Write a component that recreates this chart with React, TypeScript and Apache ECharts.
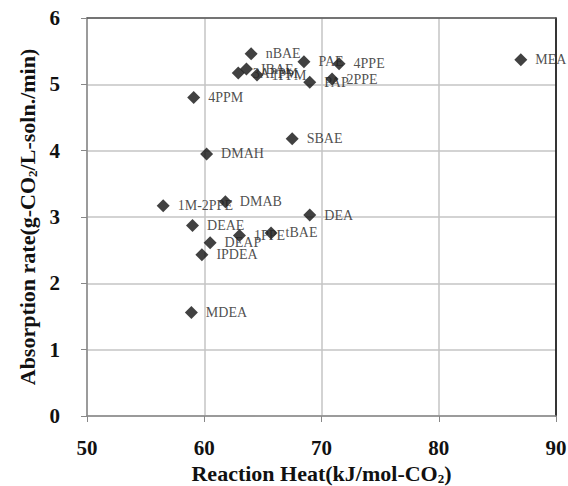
import React, { useEffect, useRef } from "react";
import * as echarts from "echarts";

const amineNames = [
  "MEA", "nBAE", "PAE", "4PPE", "IBAE", "3APPM", "1PPM", "PAP", "2PPE", "4PPM",
  "SBAE", "DMAH", "1M-2PPE", "DMAB", "DEA", "DEAE", "1PPE", "tBAE", "DEAP", "IPDEA", "MDEA",
];
const reactionHeat = [
  87.0, 64.0, 68.5, 71.5, 63.6, 62.9, 64.5, 69.0, 70.9, 59.1,
  67.5, 60.2, 56.5, 61.8, 69.0, 59.0, 63.0, 65.7, 60.5, 59.8, 58.9,
];
const absorptionRate = [
  5.37, 5.46, 5.34, 5.31, 5.23, 5.17, 5.14, 5.03, 5.08, 4.8,
  4.18, 3.95, 3.17, 3.23, 3.03, 2.87, 2.72, 2.76, 2.61, 2.43, 1.56,
];

const SERIF = "'Liberation Serif', 'DejaVu Serif', serif";

export default function App() {
  const ref = useRef<HTMLDivElement>(null);
  useEffect(() => {
    if (!ref.current) return;
    const chart = echarts.init(ref.current, undefined, { renderer: "svg" });
    const data = amineNames.map((n, i) => [reactionHeat[i], absorptionRate[i], n]);
    const nameRich = {
      sub: {
        fontSize: 13,
        lineHeight: 13,
        fontWeight: "bold",
        fontFamily: SERIF,
        color: "#111",
        verticalAlign: "bottom",
        padding: [5, 0, 0, 0],
      },
    };
    chart.setOption({
      animation: false,
      backgroundColor: "#fff",
      grid: {
        left: 87,
        right: 12,
        top: 18,
        bottom: 70,
        containLabel: false,
        outerBoundsMode: "none",
      },
      xAxis: [
        {
          type: "value",
          min: 50,
          max: 90,
          interval: 10,
          name: "Reaction Heat(kJ/mol-CO{sub|2})",
          nameLocation: "middle",
          nameGap: 46,
          nameTextStyle: {
            fontFamily: SERIF,
            fontWeight: "bold",
            fontSize: 22,
            lineHeight: 22,
            color: "#111",
            rich: nameRich,
          },
          axisLine: { show: true, onZero: false, lineStyle: { color: "#888", width: 1.5 } },
          axisTick: { show: true, inside: false, length: 6, lineStyle: { color: "#888" } },
          axisLabel: {
            fontFamily: SERIF,
            fontWeight: "bold",
            fontSize: 21,
            color: "#111",
            margin: 21,
          },
          splitLine: { show: true, lineStyle: { color: "#c4c4c4", width: 1.5 } },
        },
        {
          type: "value",
          position: "top",
          min: 50,
          max: 90,
          interval: 10,
          axisLine: { show: true, onZero: false, lineStyle: { color: "#555", width: 1.5 } },
          axisTick: { show: false },
          axisLabel: { show: false },
          splitLine: { show: false },
        },
      ],
      yAxis: [
        {
          type: "value",
          min: 0,
          max: 6,
          interval: 1,
          name: "Absorption rate(g-CO{sub|2}/L-soln./min)",
          nameLocation: "middle",
          nameGap: 47,
          nameTextStyle: {
            fontFamily: SERIF,
            fontWeight: "bold",
            fontSize: 22,
            lineHeight: 22,
            color: "#111",
            rich: nameRich,
          },
          axisLine: { show: true, onZero: false, lineStyle: { color: "#888", width: 1.5 } },
          axisTick: { show: true, inside: false, length: 6, lineStyle: { color: "#888" } },
          axisLabel: {
            fontFamily: SERIF,
            fontWeight: "bold",
            fontSize: 21,
            color: "#111",
            margin: 27,
          },
          splitLine: { show: true, lineStyle: { color: "#c4c4c4", width: 1.5 } },
        },
        {
          type: "value",
          position: "right",
          min: 0,
          max: 6,
          interval: 1,
          axisLine: { show: true, onZero: false, lineStyle: { color: "#000", width: 1.5 } },
          axisTick: { show: false },
          axisLabel: { show: false },
          splitLine: { show: false },
        },
      ],
      series: [
        {
          type: "scatter",
          xAxisIndex: 0,
          yAxisIndex: 0,
          symbol: "diamond",
          symbolSize: 13,
          itemStyle: { color: "#111" },
          data,
          label: {
            show: true,
            position: "right",
            distance: 8,
            formatter: (p: any) => p.value[2],
            fontFamily: SERIF,
            fontSize: 14,
            color: "#222",
          },
        },
      ],
    });
    return () => chart.dispose();
  }, []);
  return (
    <div
      ref={ref}
      style={{ position: "absolute", left: 0, top: 0, width: 568, height: 486 }}
    />
  );
}
